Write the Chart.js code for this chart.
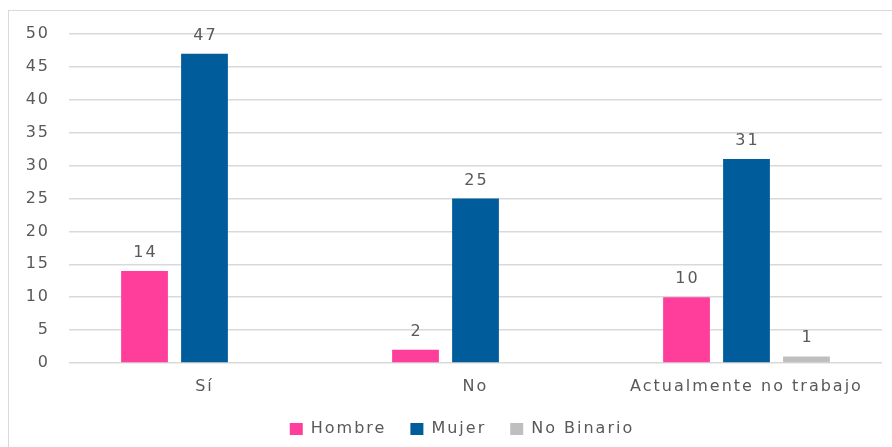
<!DOCTYPE html>
<html>
<head>
<meta charset="utf-8">
<script src="https://cdn.jsdelivr.net/npm/chart.js@4/dist/chart.umd.min.js"></script>
<style>
  html, body { margin: 0; padding: 0; background: #fff; }
  .wrap { position: relative; width: 892px; height: 447px; overflow: hidden; }
  .frame { position: absolute; left: 8px; top: 10px; width: 900px; height: 460px;
           border-left: 1px solid #d9d9d9; border-top: 1px solid #d9d9d9; }
  canvas { position: absolute; left: 0; top: 0; }
</style>
</head>
<body>
<div class="wrap">
  <div class="frame"></div>
  <canvas id="workChart" width="892" height="447"></canvas>
</div>
<script>
const categories = ["Sí", "No", "Actualmente no trabajo"];
const hombre = [14, 2, 10];
const mujer = [47, 25, 31];
const noBinario = [null, null, 1];
const yTicks = [0, 5, 10, 15, 20, 25, 30, 35, 40, 45, 50];

const textColor = "#595959";
const fontFamily = "'DejaVu Sans', sans-serif";
const spacing = "2px";

// wider tracking for every text drawn on the canvas
const tracking = {
  id: "tracking",
  beforeInit(chart) { chart.ctx.letterSpacing = spacing; },
  beforeDraw(chart) { chart.ctx.letterSpacing = spacing; }
};

// value labels above each bar
const barValues = {
  id: "barValues",
  afterDatasetsDraw(chart) {
    const c = chart.ctx;
    c.save();
    c.font = "16px " + fontFamily;
    c.fillStyle = textColor;
    c.textAlign = "center";
    c.textBaseline = "alphabetic";
    chart.data.datasets.forEach(function (ds, i) {
      chart.getDatasetMeta(i).data.forEach(function (bar, j) {
        const v = ds.data[j];
        if (v === null || v === undefined) return;
        c.fillText(String(v), bar.x + 1, bar.y - 14);
      });
    });
    c.restore();
  }
};

new Chart(document.getElementById("workChart"), {
  type: "bar",
  data: {
    labels: categories,
    datasets: [
      { label: "Hombre", data: hombre, backgroundColor: "#ff3d9a" },
      { label: "Mujer", data: mujer, backgroundColor: "#005c9b" },
      { label: "No Binario", data: noBinario, backgroundColor: "#bfbfbf" }
    ]
  },
  options: {
    responsive: false,
    animation: false,
    categoryPercentage: 0.664,
    barPercentage: 0.78,
    layout: { padding: { top: 34, right: 10, left: 0, bottom: 0 } },
    scales: {
      x: {
        grid: { display: false },
        border: { display: false },
        afterFit: function (axis) { axis.height = 34; },
        ticks: { color: textColor, font: { family: fontFamily, size: 16 }, padding: 6 }
      },
      y: {
        min: 0,
        max: 50,
        afterBuildTicks: function (axis) {
          axis.ticks = yTicks.map(function (v) { return { value: v }; });
        },
        afterFit: function (axis) { axis.width = 69; },
        grid: { color: "#d9d9d9", lineWidth: 1.5, drawTicks: false },
        border: { display: false },
        ticks: { color: textColor, font: { family: fontFamily, size: 16 }, padding: 19 }
      }
    },
    plugins: {
      legend: {
        position: "bottom",
        labels: {
          color: textColor,
          font: { family: fontFamily, size: 16 },
          boxWidth: 13,
          boxHeight: 12,
          padding: 24
        }
      },
      tooltip: { enabled: false }
    }
  },
  plugins: [tracking, barValues]
});
</script>
</body>
</html>
